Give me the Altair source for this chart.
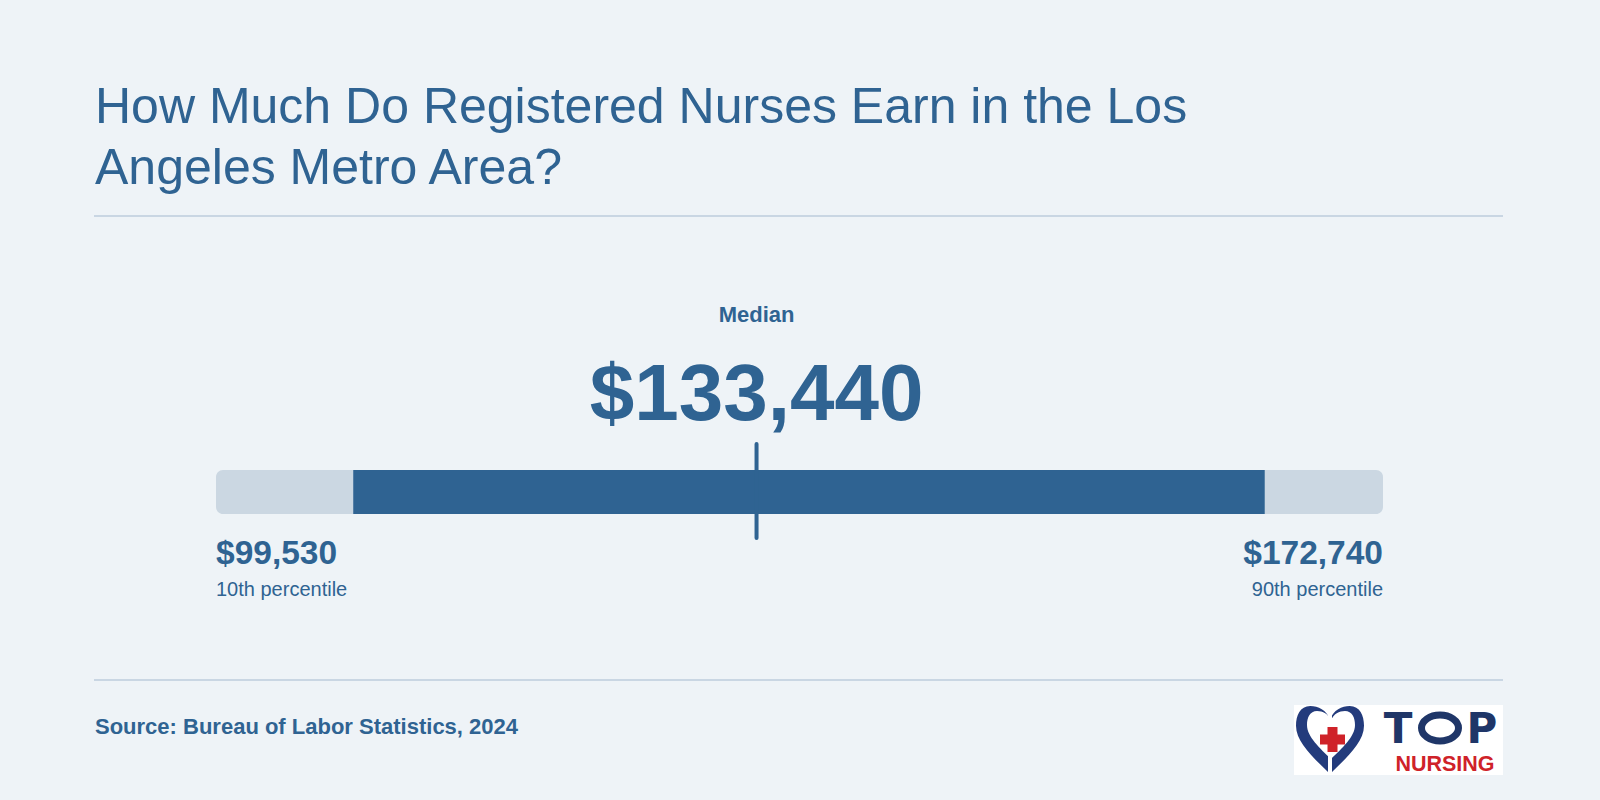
import altair as alt
import pandas as pd

# ---- content ---------------------------------------------------------------
TITLE_LINES = ["How Much Do Registered Nurses Earn in the Los", "Angeles Metro Area?"]
SOURCE_TEXT = "Source: Bureau of Labor Statistics, 2024"
MEDIAN_CAPTION = "Median"
MEDIAN_WAGE = 133440
END_WAGES = [99530, 172740]                 # track ends: 10th and 90th percentile
END_CAPTIONS = ["10th percentile", "90th percentile"]
MID_BAND = [108140, 165320]                 # darker middle band of the range
LOGO_WORD_TOP = ["T", "P"]                  # the "O" between them is drawn as a ring
LOGO_WORD_BOTTOM = "NURSING"

# ---- style -----------------------------------------------------------------
BG = "#eef3f7"
BLUE = "#2f6392"
TRACK = "#cbd7e2"
RULE = "#c9d6e3"
NAVY = "#233b7c"
NAVY_TEXT = "#1f3668"
RED = "#cf2229"
FONT = "Liberation Sans"

W, H = 1600, 800
TRACK_PX = [216, 1383]
BAR_TOP, BAR_BOTTOM = 470, 514


def money(v):
    return f"${v:,}"


x_scale = alt.Scale(domain=END_WAGES, range=TRACK_PX, nice=False, zero=False)
one = pd.DataFrame({"k": [0]})

track_df = pd.DataFrame({"lo": [END_WAGES[0]], "hi": [END_WAGES[1]]})
band_df = pd.DataFrame({"lo": [MID_BAND[0]], "hi": [MID_BAND[1]]})
median_df = pd.DataFrame({"wage": [MEDIAN_WAGE], "amount": [money(MEDIAN_WAGE)],
                          "caption": [MEDIAN_CAPTION]})
ends_df = pd.DataFrame({"wage": END_WAGES,
                        "amount": [money(v) for v in END_WAGES],
                        "caption": END_CAPTIONS,
                        "side": ["left", "right"]})

X = lambda f: alt.X(f"{f}:Q", scale=x_scale, axis=None)

# ---- range bar -------------------------------------------------------------
track = alt.Chart(track_df).mark_rect(color=TRACK, cornerRadius=7).encode(
    x=X("lo"), x2="hi", y=alt.value(BAR_TOP), y2=alt.value(BAR_BOTTOM))
band = alt.Chart(band_df).mark_rect(color=BLUE).encode(
    x=X("lo"), x2="hi", y=alt.value(BAR_TOP), y2=alt.value(BAR_BOTTOM))
tick = alt.Chart(median_df).mark_rule(color=BLUE, strokeWidth=4, strokeCap="round").encode(
    x=X("wage"), y=alt.value(444), y2=alt.value(538))

median_cap = alt.Chart(median_df).mark_text(
    font=FONT, fontSize=22, fontWeight="bold", color=BLUE, align="center",
    baseline="alphabetic").encode(x=X("wage"), y=alt.value(322), text="caption:N")
median_amt = alt.Chart(median_df).mark_text(
    font=FONT, fontSize=80, fontWeight="bold", color=BLUE, align="center",
    baseline="alphabetic").encode(x=X("wage"), y=alt.value(420), text="amount:N")


def end_labels(side):
    base = alt.Chart(ends_df).transform_filter(alt.datum.side == side)
    amt = base.mark_text(font=FONT, fontSize=33.5, fontWeight="bold", color=BLUE,
                         align=side, baseline="alphabetic").encode(
        x=X("wage"), y=alt.value(564), text="amount:N")
    cap = base.mark_text(font=FONT, fontSize=20, color=BLUE, align=side,
                         baseline="alphabetic").encode(
        x=X("wage"), y=alt.value(596), text="caption:N")
    return amt + cap


# ---- frame: title, separators, source ------------------------------------
title = alt.Chart(one).mark_text(
    text=TITLE_LINES, font=FONT, fontSize=50, lineHeight=61, color=BLUE,
    align="left", baseline="alphabetic").encode(x=alt.value(95), y=alt.value(122.5))

sep_top = alt.Chart(one).mark_rule(color=RULE, strokeWidth=2).encode(
    x=alt.value(94), x2=alt.value(1503), y=alt.value(216))
sep_bottom = alt.Chart(one).mark_rule(color=RULE, strokeWidth=2).encode(
    x=alt.value(94), x2=alt.value(1503), y=alt.value(680))

source = alt.Chart(one).mark_text(
    text=SOURCE_TEXT, font=FONT, fontSize=22, fontWeight="bold", color=BLUE,
    align="left", baseline="alphabetic").encode(x=alt.value(95), y=alt.value(734))

# ---- logo ------------------------------------------------------------------
HEART = ("M0,-0.6 C-0.1,-0.88 -0.35,-1 -0.58,-1 C-0.88,-1 -1,-0.72 -1,-0.42 "
         "C-1,0.08 -0.45,0.55 0,1 C0.45,0.55 1,0.08 1,-0.42 "
         "C1,-0.72 0.88,-1 0.58,-1 C0.35,-1 0.1,-0.88 0,-0.6 Z")
RING = "M-1,0 A1,0.7 0 1,0 1,0 A1,0.7 0 1,0 -1,0 Z"

logo_box = alt.Chart(one).mark_rect(color="white").encode(
    x=alt.value(1294), x2=alt.value(1503), y=alt.value(705), y2=alt.value(775))
heart_outer = alt.Chart(one).mark_point(
    shape=HEART, filled=True, fill=NAVY, opacity=1, size=68 ** 2, strokeOpacity=0).encode(
    x=alt.value(1330), y=alt.value(740))
heart_inner = alt.Chart(one).mark_point(
    shape=HEART, filled=True, fill="white", opacity=1, size=48 ** 2, strokeOpacity=0).encode(
    x=alt.value(1331), y=alt.value(735))
heart_split = alt.Chart(one).mark_rule(color="white", strokeWidth=4).encode(
    x=alt.value(1330), y=alt.value(706), y2=alt.value(774))
cross = alt.Chart(one).mark_point(
    shape="cross", filled=True, fill=RED, opacity=1, size=25 ** 2, strokeOpacity=0).encode(
    x=alt.value(1332.5), y=alt.value(739.5))

top_df = pd.DataFrame({"letter": LOGO_WORD_TOP})
top_pos = {"T": 1398, "P": 1482}
top_layers = [
    alt.Chart(top_df).transform_filter(alt.datum.letter == ch).mark_text(
        font="DejaVu Sans", fontSize=42, fontWeight="bold", color=NAVY_TEXT,
        align="center", baseline="alphabetic").encode(
        x=alt.value(top_pos[ch]), y=alt.value(743), text="letter:N")
    for ch in LOGO_WORD_TOP
]
top_o = alt.Chart(one).mark_point(
    shape=RING, filled=False, stroke=NAVY_TEXT, strokeWidth=7, opacity=1,
    size=37 ** 2).encode(x=alt.value(1440), y=alt.value(728))
nursing = alt.Chart(one).mark_text(
    text=LOGO_WORD_BOTTOM, font=FONT, fontSize=21.5, fontWeight="bold", color=RED,
    align="center", baseline="alphabetic").encode(x=alt.value(1445), y=alt.value(771))

chart = alt.layer(
    title, sep_top, sep_bottom, source,
    track, band, tick, median_cap, median_amt,
    end_labels("left"), end_labels("right"),
    logo_box, heart_outer, heart_inner, heart_split, cross, *top_layers, top_o, nursing,
).properties(
    width=W, height=H, background=BG, padding=0, autosize="none"
).configure_view(stroke=None)

chart.save("out.html", embed_options={"renderer": "svg", "actions": False})
